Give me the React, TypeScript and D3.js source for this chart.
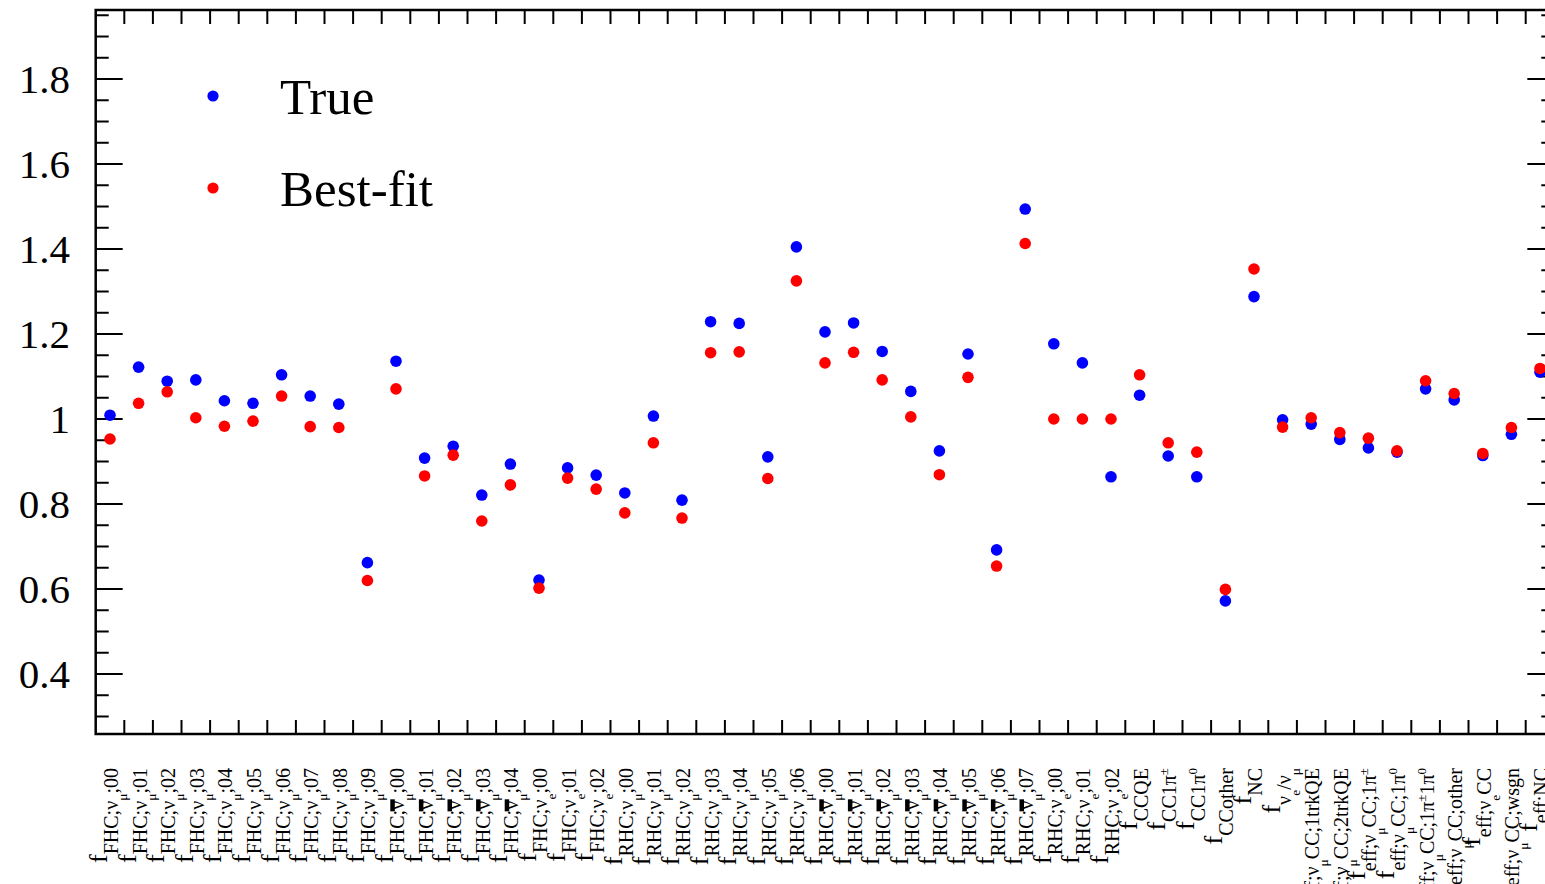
import React, { useEffect, useRef } from "react";
import * as d3 from "d3";

const W = 1545;
const H = 884;
const FONT = "'Liberation Serif', 'Times New Roman', Times, serif";

// Subscript text of each parameter f_{...}; "_x" = lower index, "^x" = upper index,
// a combining macron marks an anti-neutrino.
const categories = [
  "FHC;ν_μ;00", "FHC;ν_μ;01", "FHC;ν_μ;02", "FHC;ν_μ;03", "FHC;ν_μ;04",
  "FHC;ν_μ;05", "FHC;ν_μ;06", "FHC;ν_μ;07", "FHC;ν_μ;08", "FHC;ν_μ;09",
  "FHC;ν̄_μ;00", "FHC;ν̄_μ;01", "FHC;ν̄_μ;02", "FHC;ν̄_μ;03", "FHC;ν̄_μ;04",
  "FHC;ν_e;00", "FHC;ν_e;01", "FHC;ν_e;02",
  "RHC;ν_μ;00", "RHC;ν_μ;01", "RHC;ν_μ;02", "RHC;ν_μ;03", "RHC;ν_μ;04",
  "RHC;ν_μ;05", "RHC;ν_μ;06",
  "RHC;ν̄_μ;00", "RHC;ν̄_μ;01", "RHC;ν̄_μ;02", "RHC;ν̄_μ;03", "RHC;ν̄_μ;04",
  "RHC;ν̄_μ;05", "RHC;ν̄_μ;06", "RHC;ν̄_μ;07",
  "RHC;ν_e;00", "RHC;ν_e;01", "RHC;ν_e;02",
  "CCQE", "CC1π^±", "CC1π^0", "CCother", "NC",
  "ν_e/ν_μ",
  "eff;ν_μCC;1trkQE", "eff;ν_μCC;2trkQE", "eff;ν_μCC;1π^±", "eff;ν_μCC;1π^0",
  "eff;ν_μCC;1π^±1π^0", "eff;ν_μCC;other", "eff;ν_eCC", "eff;ν_μCC;wsgn", "eff;NC",
];

const trueValues = [
  1.009, 1.122, 1.089, 1.092, 1.043, 1.037, 1.104, 1.054, 1.035, 0.662,
  1.136, 0.908, 0.936, 0.821, 0.894,
  0.621, 0.885, 0.868,
  0.826, 1.007, 0.809, 1.229, 1.225, 0.911, 1.405,
  1.205, 1.226, 1.159, 1.065, 0.925, 1.153, 0.692, 1.494,
  1.177, 1.132, 0.864,
  1.056, 0.913, 0.864, 0.572, 1.288,
  0.998,
  0.988, 0.952, 0.932, 0.922, 1.071, 1.045, 0.914, 0.964, 1.110,
];

const bestFitValues = [
  0.953, 1.037, 1.064, 1.003, 0.983, 0.995, 1.054, 0.982, 0.980, 0.620,
  1.071, 0.866, 0.915, 0.760, 0.845,
  0.602, 0.861, 0.835,
  0.779, 0.944, 0.767, 1.156, 1.158, 0.860, 1.325,
  1.132, 1.157, 1.092, 1.005, 0.869, 1.098, 0.654, 1.413,
  1.000, 1.000, 1.000,
  1.104, 0.944, 0.922, 0.599, 1.353,
  0.981,
  1.003, 0.968, 0.955, 0.925, 1.090, 1.060, 0.919, 0.980, 1.119,
];

const yMajorTicks = [0.4, 0.6, 0.8, 1.0, 1.2, 1.4, 1.6, 1.8];
const seriesNames = ["True", "Best-fit"];
const seriesColors = ["#0000ff", "#ff0000"];

type Seg = { text: string; level: number; bar: boolean };

// level 0: main symbol, 1: subscript, 2: index of the subscript, 3: exponent in the subscript
function parseLabel(s: string): Seg[] {
  const segs: Seg[] = [{ text: "f", level: 0, bar: false }];
  const chars = Array.from(s);
  const push = (ch: string, level: number, bar: boolean) => {
    const last = segs[segs.length - 1];
    if (!bar && !last.bar && last.level === level) last.text += ch;
    else segs.push({ text: ch, level, bar });
  };
  let i = 0;
  while (i < chars.length) {
    const c = chars[i];
    if (c === "_") { push(chars[i + 1], 2, false); i += 2; continue; }
    if (c === "^") { push(chars[i + 1], 3, false); i += 2; continue; }
    if (chars[i + 1] === "\u0304") { push(c, 1, true); i += 2; continue; }
    push(c, 1, false);
    i += 1;
  }
  return segs;
}

const LEVEL_BASE = [-3, 8, 17, 0];
const LEVEL_SIZE = [26, 20, 13.5, 13];

export default function App() {
  const ref = useRef<SVGSVGElement | null>(null);

  useEffect(() => {
    const svg = d3.select(ref.current);
    svg.selectAll("*").remove();

    const left = 95.7;
    const top = 10;
    const bottom = 734;
    const n = categories.length;
    const binW = 28.6;
    const right = left + n * binW;

    const x = d3
      .scaleBand<number>()
      .domain(d3.range(n))
      .range([left, right])
      .padding(0);
    const y = d3.scaleLinear().domain([0.2588, 1.9624]).range([bottom, top]);

    const g = svg.append("g");

    // y ticks (left and right), major every 0.2, minor every 0.05
    const minor = d3
      .range(5, 40)
      .map((i) => i * 0.05)
      .filter((v) => v > 0.2588 && v < 1.9624)
      .filter((v) => Math.abs(v / 0.2 - Math.round(v / 0.2)) > 1e-6);
    const axisG = g.append("g").attr("stroke", "#000").attr("stroke-width", 2);
    yMajorTicks.forEach((v) => {
      axisG.append("line").attr("x1", left).attr("x2", left + 27).attr("y1", y(v)).attr("y2", y(v));
      axisG.append("line").attr("x1", right - 27).attr("x2", right).attr("y1", y(v)).attr("y2", y(v));
    });
    minor.forEach((v) => {
      axisG.append("line").attr("x1", left).attr("x2", left + 13).attr("y1", y(v)).attr("y2", y(v));
      axisG.append("line").attr("x1", right - 13).attr("x2", right).attr("y1", y(v)).attr("y2", y(v));
    });
    // x ticks at bin edges, top and bottom
    d3.range(1, n).forEach((i) => {
      const xe = x(i) as number;
      axisG.append("line").attr("x1", xe).attr("x2", xe).attr("y1", top).attr("y2", top + 14);
      axisG.append("line").attr("x1", xe).attr("x2", xe).attr("y1", bottom).attr("y2", bottom - 14);
    });

    // frame
    g.append("rect")
      .attr("x", left)
      .attr("y", top)
      .attr("width", right - left)
      .attr("height", bottom - top)
      .attr("fill", "none")
      .attr("stroke", "#000")
      .attr("stroke-width", 2.5);

    // y tick labels
    g.append("g")
      .selectAll("text")
      .data(yMajorTicks)
      .join("text")
      .attr("x", 70)
      .attr("y", (d) => y(d))
      .attr("dy", "0.35em")
      .attr("text-anchor", "end")
      .attr("font-family", FONT)
      .attr("font-size", 41)
      .text((d) => String(+d.toFixed(1)));

    // category labels, rotated
    const labG = g.append("g").attr("font-family", FONT).attr("fill", "#000");
    categories.forEach((cat, i) => {
      const cx = (x(i) as number) + x.bandwidth() / 2;
      const lg = labG.append("g").attr("transform", `translate(${cx},768) rotate(-90)`);
      const segs = parseLabel(cat);
      const text = lg.append("text").attr("x", 0).attr("y", LEVEL_BASE[0]).attr("text-anchor", "end");
      let cur = LEVEL_BASE[0];
      let idx = 0;
      const bars: { idx: number }[] = [];
      segs.forEach((s) => {
        const base = LEVEL_BASE[s.level];
        text
          .append("tspan")
          .attr("dy", base - cur)
          .attr("font-size", LEVEL_SIZE[s.level])
          .text(s.text);
        cur = base;
        if (s.bar) bars.push({ idx });
        idx += s.text.length;
      });
      const node = text.node() as SVGTextElement;
      bars.forEach((b) => {
        try {
          const ext = node.getExtentOfChar(b.idx);
          const barH = 4.5;
          const yTop = LEVEL_BASE[1] - 0.46 * LEVEL_SIZE[1] - barH;
          lg.append("rect")
            .attr("x", ext.x - 1.5)
            .attr("y", yTop)
            .attr("width", ext.width + 3)
            .attr("height", barH)
            .attr("fill", "#000");
        } catch (e) {
          /* measurement unavailable */
        }
      });
    });

    // markers: True first, Best-fit on top
    const series = [trueValues, bestFitValues];
    series.forEach((vals, si) => {
      g.append("g")
        .selectAll("circle")
        .data(vals)
        .join("circle")
        .attr("cx", (_d, i) => (x(i) as number) + x.bandwidth() / 2)
        .attr("cy", (d) => y(d))
        .attr("r", 5.8)
        .attr("fill", seriesColors[si]);
    });

    // legend
    const leg = g.append("g");
    const legY = [96, 188];
    const legBase = [114, 206];
    seriesNames.forEach((name, si) => {
      leg.append("circle").attr("cx", 213).attr("cy", legY[si]).attr("r", 5.6).attr("fill", seriesColors[si]);
      leg.append("text")
        .attr("x", 280)
        .attr("y", legBase[si])
        .attr("font-family", FONT)
        .attr("font-size", 51)
        .text(name);
    });
  }, []);

  return (
    <svg
      ref={ref}
      width={W}
      height={H}
      style={{ position: "absolute", left: 0, top: 0, background: "#fff", display: "block" }}
    />
  );
}
